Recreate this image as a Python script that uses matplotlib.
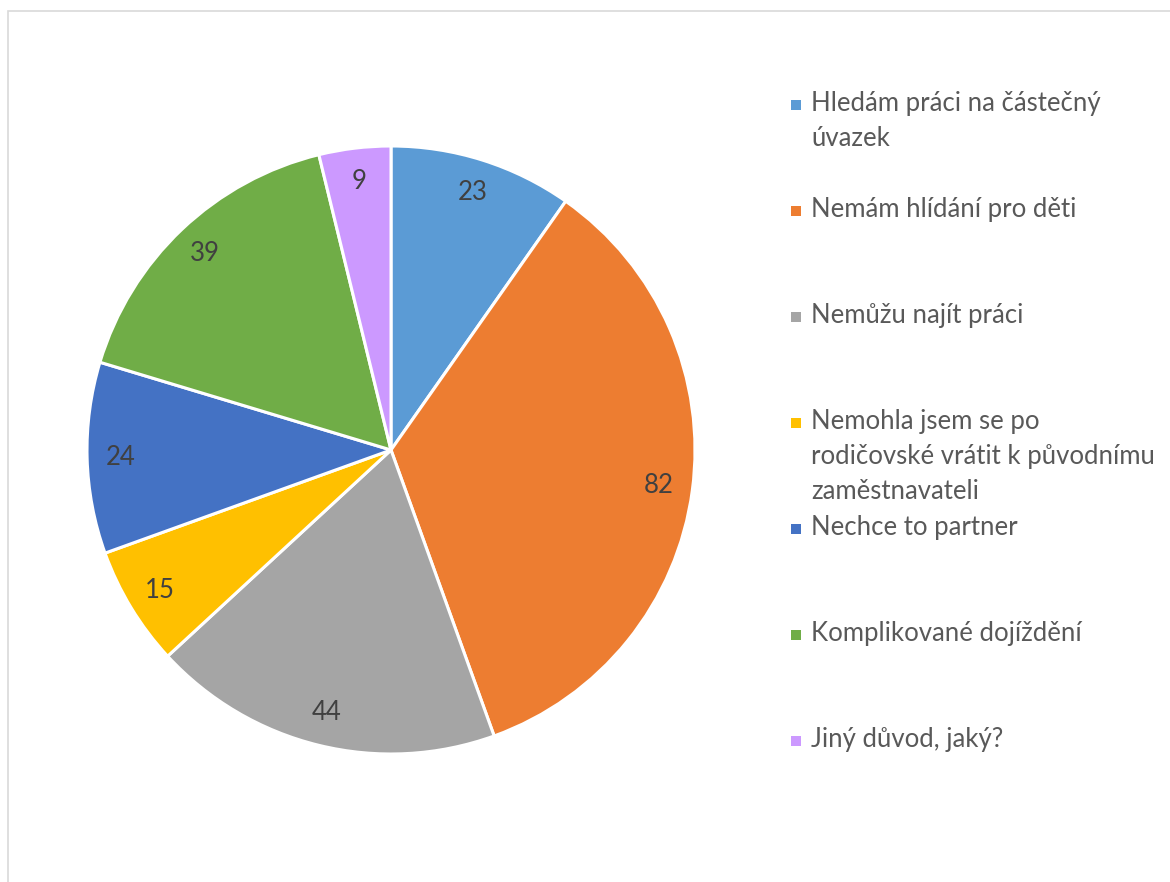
import matplotlib.pyplot as plt
from matplotlib.patches import Rectangle

plt.rcParams['font.family'] = ['Lato', 'DejaVu Sans']

### Data

reasons = ['Hledám práci na částečný\núvazek',
           'Nemám hlídání pro děti',
           'Nemůžu najít práci',
           'Nemohla jsem se po\nrodičovské vrátit k původnímu\nzaměstnavateli',
           'Nechce to partner',
           'Komplikované dojíždění',
           'Jiný důvod, jaký?']
counts = [23, 82, 44, 15, 24, 39, 9]
colours = ['#5B9BD5', '#ED7D31', '#A5A5A5', '#FFC000', '#4472C4', '#70AD47', '#CC99FF']

### Figure

W, H = 1170, 882
fig = plt.figure(figsize=(W / 100, H / 100), dpi=100)

# Light frame around the chart area, cut off on the right and bottom
fig.add_artist(Rectangle((8 / W, -0.1), 1.2, (H - 11) / H + 0.1, transform=fig.transFigure,
                         facecolor='none', edgecolor='#D9D9D9', linewidth=1.2))

cx, cy, r = 391, H - 450, 304
ax = fig.add_axes([(cx - r) / W, (cy - r) / H, 2 * r / W, 2 * r / H])
wedges, texts = ax.pie(counts, colors=colours, startangle=90, counterclock=False,
                       labels=[str(c) for c in counts], labeldistance=0.89,
                       wedgeprops=dict(edgecolor='white', linewidth=2.2),
                       textprops=dict(color='#404040', fontsize=18.5))
for t in texts:
   t.set_ha('center')
   t.set_va('center')
ax.set_xlim(-1, 1)
ax.set_ylim(-1, 1)
ax.set_aspect('equal')
ax.axis('off')

# Legend: one slot per entry, first line centred on the marker
for i, (name, col) in enumerate(zip(reasons, colours)):
   y = 105 + 106 * i
   fig.add_artist(Rectangle((791 / W, (H - y - 5) / H), 10 / W, 10 / H, transform=fig.transFigure,
                            facecolor=col, edgecolor='none'))
   fig.text(811 / W, (H - y + 14) / H, name, ha='left', va='top', color='#595959',
            fontsize=18.5, linespacing=1.5, transform=fig.transFigure)

fig.savefig('out.png', dpi=100, facecolor='white')
